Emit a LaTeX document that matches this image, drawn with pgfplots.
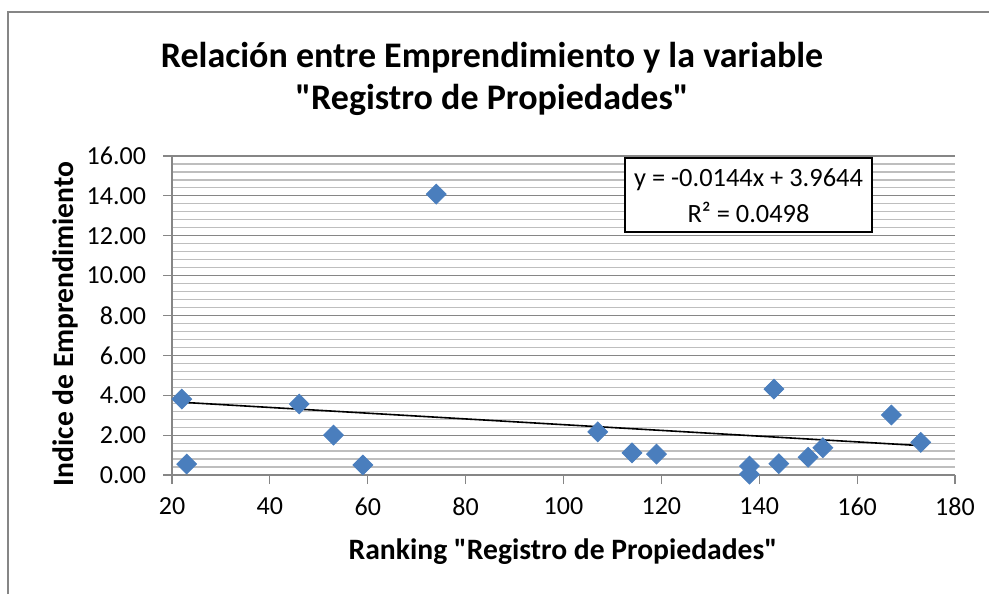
\documentclass[border=0pt]{standalone}
\usepackage{fontspec}
\setmainfont{Carlito}
\usepackage{pgfplots}
\pgfplotsset{compat=1.18}
\definecolor{ptblue}{RGB}{74,126,189}
\definecolor{axgray}{RGB}{134,134,134}
\definecolor{mingray}{RGB}{190,190,190}
\begin{document}
\begin{tikzpicture}
\useasboundingbox (0,0) rectangle (494.5pt,297pt);
% chart area frame (only top and left visible in the crop)
\draw[axgray, line width=0.8pt] (4pt,0) -- (4pt,291pt) -- (494.5pt,291pt);
\begin{axis}[
  at={(86pt,59.5pt)}, anchor=south west,
  scale only axis, width=391.5pt, height=159.5pt,
  xmin=20, xmax=180, ymin=0, ymax=16,
  xtick={20,40,...,180}, ytick={0,2,...,16},
  minor y tick num=4,
  axis x line*=bottom, axis y line*=left,
  axis line style={-, axgray, line width=0.6pt},
  tick align=outside, major tick length=4.5pt, minor tick length=0pt,
  tick style={axgray, line width=0.6pt},
  ymajorgrids, yminorgrids,
  major grid style={axgray, line width=0.6pt},
  minor grid style={mingray, line width=0.6pt},
  tick label style={font=\fontsize{13}{15}\selectfont, text=black},
  /pgf/number format/assume math mode=true,
  yticklabel style={xshift=-5pt, /pgf/number format/.cd, fixed, fixed zerofill, precision=2},
  xticklabel style={yshift=-3.5pt, /pgf/number format/.cd, fixed, precision=0},
  clip=false,
]
\addplot[only marks, mark=square*, mark size=3.5pt,
  mark options={rotate=45, fill=ptblue, draw=ptblue}] coordinates {
  (22,3.81) (23,0.55) (46,3.56) (53,2.00) (59,0.50) (74,14.09)
  (107,2.16) (114,1.11) (119,1.05) (138,0.45) (138,0.04) (143,4.31)
  (144,0.57) (150,0.89) (153,1.37) (167,3.01) (173,1.64)
};
% linear trend line y = -0.0144x + 3.9644 (end points)
\addplot[black, line width=0.8pt] coordinates {(22,3.6476) (173,1.4732)};
\end{axis}
% title
\node[font=\fontsize{18}{22}\selectfont\bfseries] at (246pt,268pt) {Relación entre Emprendimiento y la variable};
\node[font=\fontsize{18}{22}\selectfont\bfseries] at (246pt,247pt) {\textquotedbl Registro de Propiedades\textquotedbl};
% axis labels
\node[font=\fontsize{14.8}{17}\selectfont\bfseries] at (281.5pt,21pt) {Ranking \textquotedbl Registro de Propiedades\textquotedbl};
\node[font=\fontsize{14.8}{17}\selectfont\bfseries, rotate=90] at (32.5pt,135pt) {Indice de Emprendimiento};
% equation box
\draw[black, line width=1pt, fill=white] (312.5pt,181pt) rectangle (436pt,218pt);
\node[font=\fontsize{13.2}{15}\selectfont] at (374.25pt,207pt) {y = -0.0144x + 3.9644};
\node[font=\fontsize{13.2}{15}\selectfont] at (374.25pt,191pt) {R² = 0.0498};
\end{tikzpicture}
\end{document}
